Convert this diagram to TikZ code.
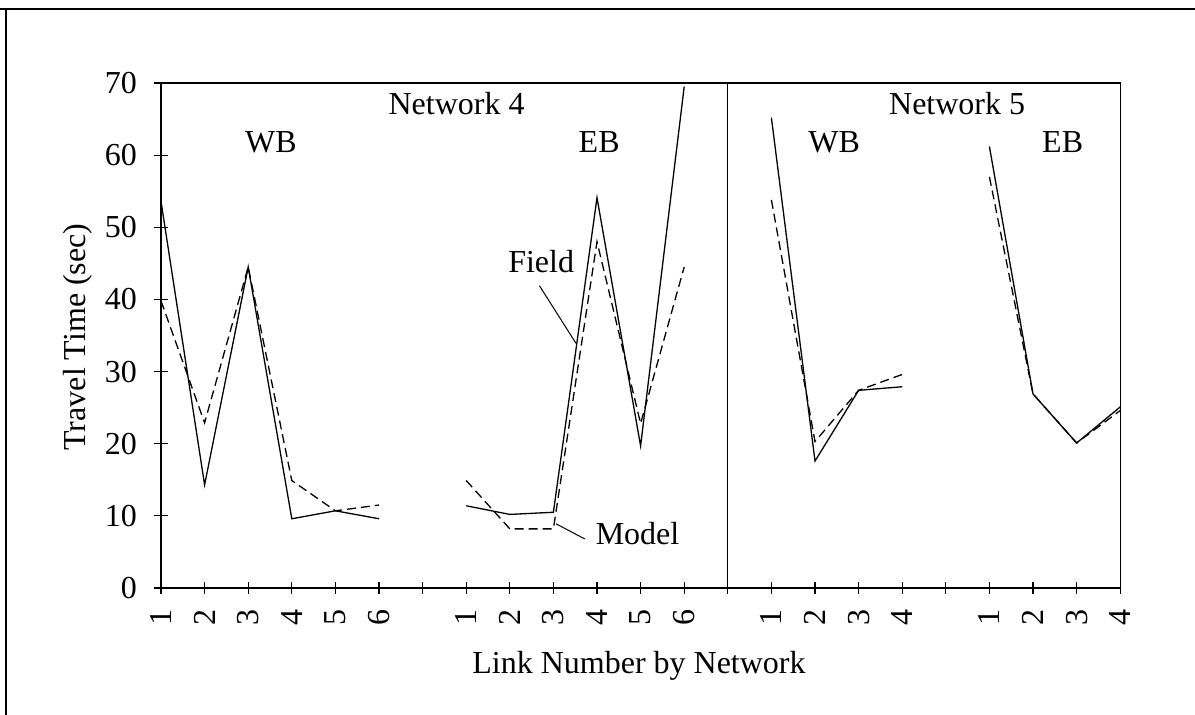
\documentclass[tikz,border=0pt]{standalone}
\usepackage{fontspec}
\setmainfont{Liberation Serif}
\begin{document}
\begin{tikzpicture}[x=1pt,y=-1pt,
  lbl/.style={font=\fontsize{32}{36}\selectfont, inner sep=0pt},
  field/.style={line width=1.3pt, line join=miter},
  model/.style={line width=1.3pt, dash pattern=on 9pt off 5pt},
  axisline/.style={line width=1.4pt},
  leader/.style={line width=1pt}]
\useasboundingbox (0,0) rectangle (1195,715);
% outer frame (top and left)
\draw[line width=2.5pt] (0,9) -- (1195,9);
\draw[line width=1.2pt] (6,9) -- (6,715);
\begin{scope}[shift={(161,588)}, x=43.6pt, y=7.214pt]
  % plot frame
  \draw[axisline] (-0.17,70) -- (22,70) -- (22,0);
  \draw[line width=1.2pt] (13,0) -- (13,70);
  \draw[axisline] (-0.17,0) -- (22,0);
  \draw[line width=1.2pt] (0,0) -- (0,70);
  \foreach \v in {10,20,...,60} \draw[line width=1.2pt] (-0.17,\v) -- (0.17,\v);
  \foreach \i in {1,...,22} \draw[line width=1.2pt] (\i,-0.8) -- (\i,0.8);
  \draw[line width=1.2pt] (0,-0.8) -- (0,0);
  % y labels
  \foreach \v in {0,10,...,70} \node[lbl, anchor=east] (yl\v) at (-0.55,\v) {\v};
  % x tick labels
  \foreach \i/\n in {0/1,1/2,2/3,3/4,4/5,5/6,7/1,8/2,9/3,10/4,11/5,12/6,14/1,15/2,16/3,17/4,19/1,20/2,21/3,22/4}
    \node[lbl, rotate=90] (tl\i) at (\i,-4.09) {\n};
  % data: Network 4 WB
  \draw[field] (0,53.6) -- (1,14.3) -- (2,44.5) -- (3,9.6) -- (4,10.7) -- (5,9.6);
  \draw[model] (0,39.8) -- (1,22.9) -- (2,44.5) -- (3,14.9) -- (4,10.7) -- (5,11.5);
  % Network 4 EB
  \draw[field] (7,11.4) -- (8,10.2) -- (9,10.5) -- (10,54.1) -- (11,19.7) -- (12,69.5);
  \draw[model] (7,14.9) -- (8,8.2) -- (9,8.2) -- (10,48.0) -- (11,22.8) -- (12,44.5);
  % Network 5 WB
  \draw[field] (14,65.2) -- (15,17.6) -- (16,27.4) -- (17,27.9);
  \draw[model] (14,53.8) -- (15,20.3) -- (16,27.4) -- (17,29.6);
  % Network 5 EB
  \draw[field] (19,61.2) -- (20,26.9) -- (21,20.1) -- (22,25.1);
  \draw[model] (19,57.0) -- (20,26.9) -- (21,20.1) -- (22,24.6);
  % panel labels
  \node[lbl, anchor=base] (net4) at (6.78,65.7) {Network 4};
  \node[lbl, anchor=base] (wb4) at (2.52,60.4) {WB};
  \node[lbl, anchor=base] (eb4) at (10.05,60.4) {EB};
  \node[lbl, anchor=base] (net5) at (18.26,65.7) {Network 5};
  \node[lbl, anchor=base] (wb5) at (15.44,60.4) {WB};
  \node[lbl, anchor=base] (eb5) at (20.68,60.4) {EB};
  % legend labels with leaders
  \node[lbl, anchor=base] (fieldlbl) at (8.72,43.7) {Field};
  \coordinate (fieldA) at (8.68,41.9);
  \coordinate (fieldB) at (9.52,33.9);
  \draw[leader] (fieldA) -- (fieldB);
  \node[lbl, anchor=base] (modellbl) at (10.93,6.1) {Model};
  \coordinate (modelA) at (9.06,8.9);
  \coordinate (modelB) at (9.72,6.8);
  \draw[leader] (modelA) -- (modelB);
\end{scope}
% axis titles
\node[lbl, rotate=90, anchor=base] (ytitle) at (85,337) {Travel Time (sec)};
\node[lbl, anchor=base] (xtitle) at (639,673.3) {Link Number by Network};
\end{tikzpicture}
\end{document}
